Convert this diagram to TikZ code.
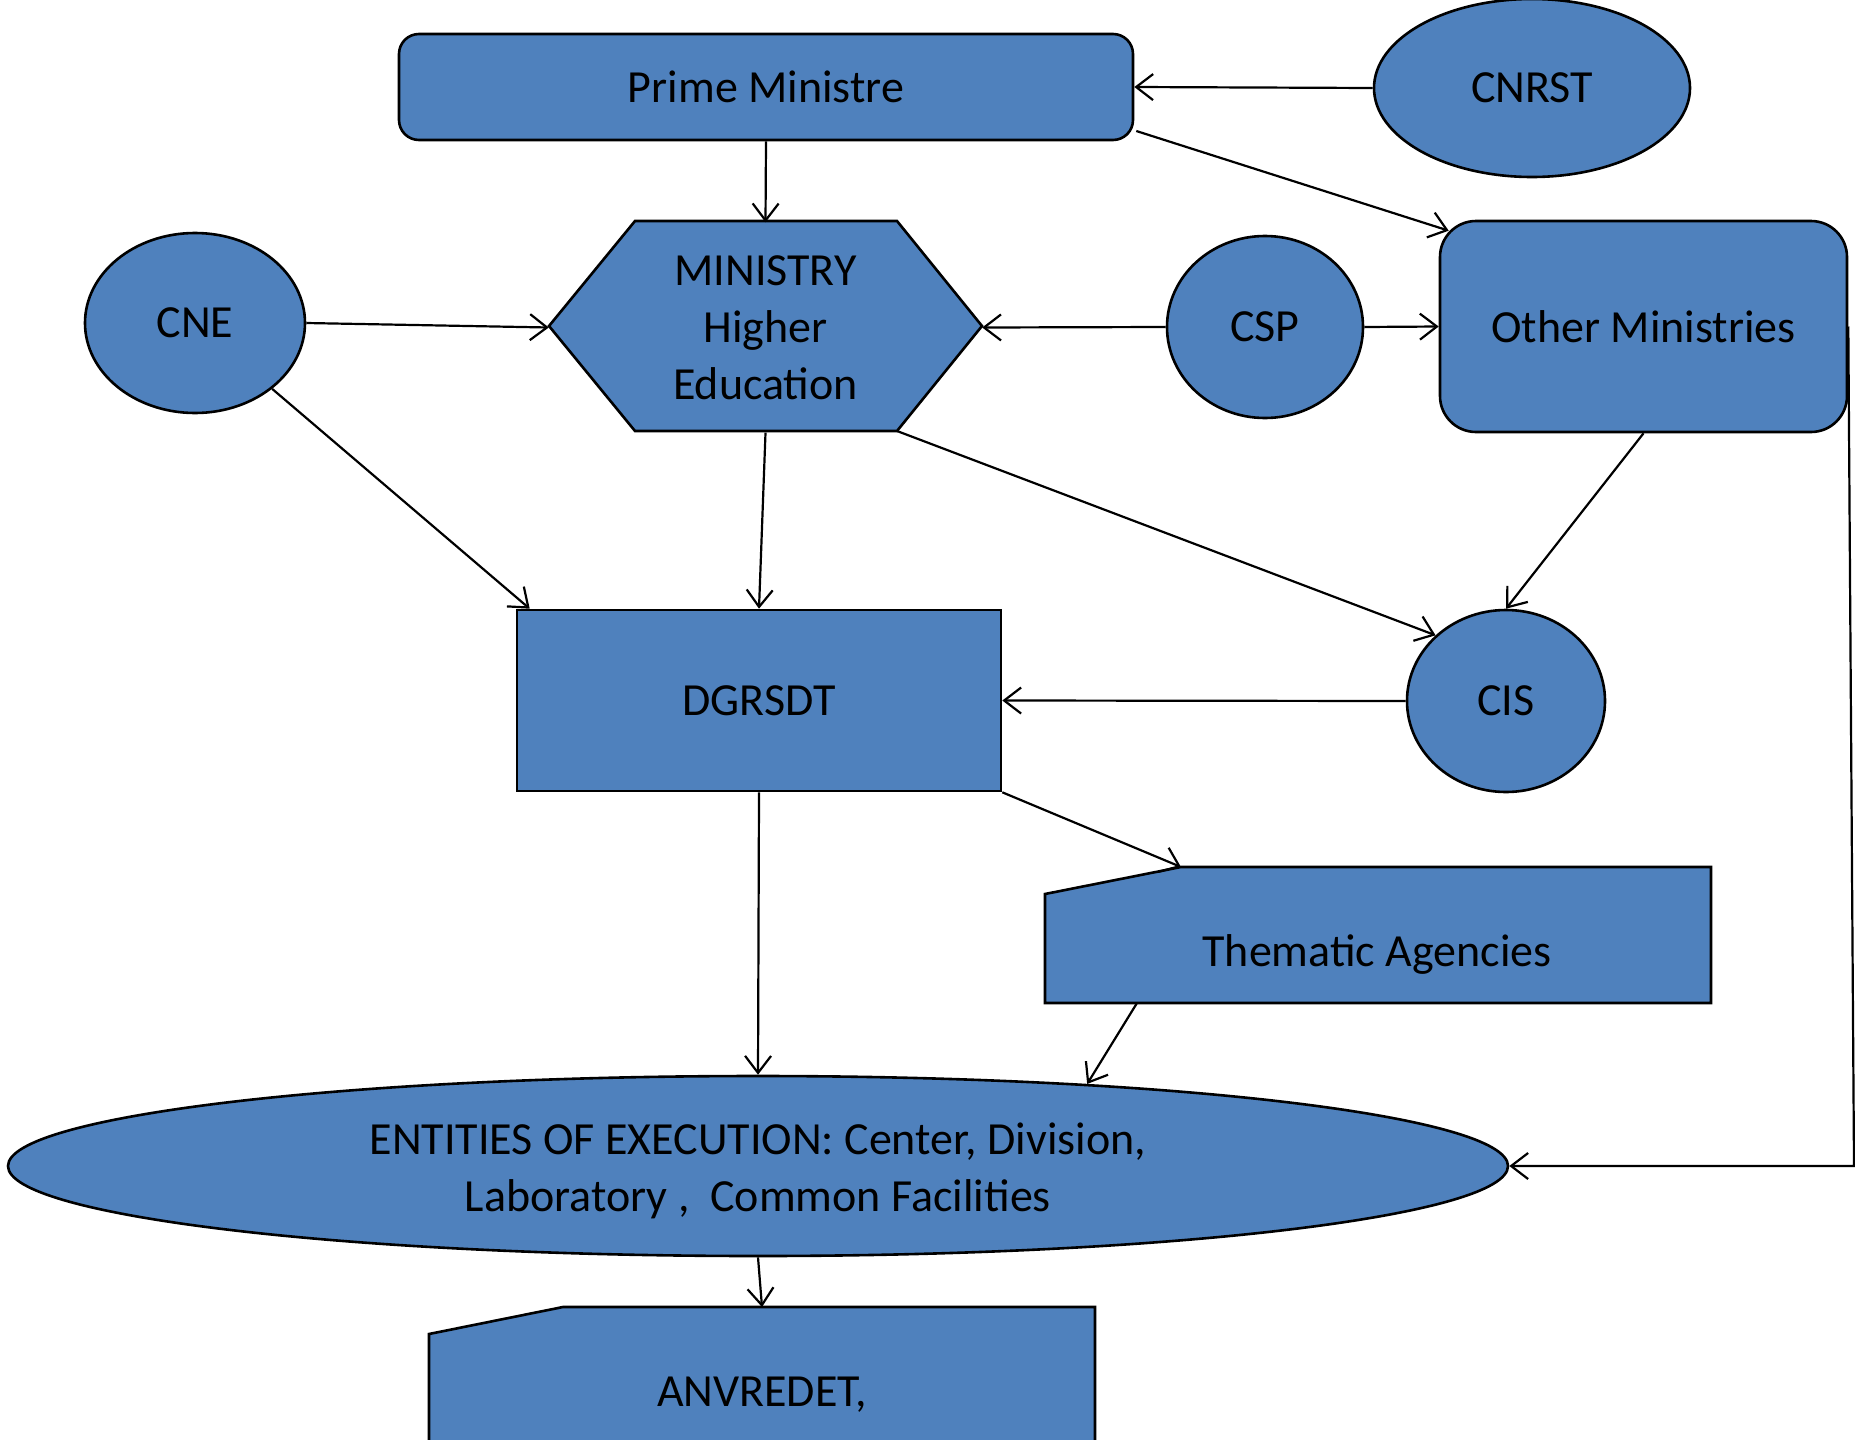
\documentclass[tikz,border=0pt]{standalone}
\usepackage{fontspec}
\setmainfont{Carlito}
\usetikzlibrary{shapes.geometric,arrows.meta,calc}
\definecolor{boxblue}{HTML}{4F81BD}
\begin{document}
\begin{tikzpicture}[x=1pt,y=-1pt,
  every node/.style={font=\fontsize{46}{57}\selectfont, inner sep=0pt, text=black},
  shapebox/.style={draw=black, line width=2.6pt, fill=boxblue},
  oval/.style={shapebox, ellipse},
  arr/.style={line width=2.2pt, -{Straight Barb[length=17pt,width=26pt,line width=2.2pt]}},
  outline/.style={draw=black, line width=2.6pt, fill=boxblue, line join=miter}]
\useasboundingbox (0,0) rectangle (1855,1440);
\clip (0,0) rectangle (1855,1440);

\node[shapebox, rounded corners=20pt, minimum width=734pt, minimum height=106pt] (pm) at (766,87) {Prime Ministre};
\node[oval, minimum width=316pt, minimum height=178pt] (cnrst) at (1532,88) {CNRST};

\draw[outline] (635,221) -- (897,221) -- (982,326) -- (897,431) -- (635,431) -- (549,326) -- cycle;
\node[minimum width=433pt, minimum height=210pt, align=center] (min) at (765.5,327.5) {MINISTRY\\Higher\\Education};
\coordinate (minbr) at (897,431);

\node[oval, minimum width=220pt, minimum height=180pt] (cne) at (195,323) {CNE};
\node[oval, minimum width=196pt, minimum height=182pt] (csp) at (1265,327) {CSP};
\node[shapebox, rounded corners=36pt, minimum width=407pt, minimum height=211pt] (om) at (1643.5,326.5) {Other Ministries};
\node[shapebox, minimum width=484pt, minimum height=181pt] (dg) at (759,700.5) {DGRSDT};
\node[oval, minimum width=198pt, minimum height=182pt] (cis) at (1506,701) {CIS};

\draw[outline] (1181,867) -- (1711,867) -- (1711,1003) -- (1045,1003) -- (1045,894) -- cycle;
\node (th) at (1377,954) {Thematic Agencies};
\coordinate (thcut) at (1181,867);
\coordinate (thbot) at (1137,1003);

\node[oval, minimum width=1500pt, minimum height=180pt] (ent) at (758,1166) {};
\node[align=center] (entt) at (758,1171) {ENTITIES OF EXECUTION: Center, Division,\\Laboratory ,~ Common Facilities};

\draw[outline] (563,1307) -- (1095,1307) -- (1095,1470) -- (429,1470) -- (429,1334) -- cycle;
\node (anv) at (762,1395) {ANVREDET,};
\coordinate (anvtop) at (762,1307);
\coordinate (rc) at (1854,1166);

\draw[arr] (cnrst.west) -- (pm.east);
\draw[arr] ($(pm.east)+(2,44)$) -- ($(om.north west)+(10,11)$);
\draw[arr] (pm.south) -- (min.north);
\draw[arr] (cne.east) -- (min.west);
\draw[arr] (csp.west) -- (min.east);
\draw[arr] (csp.east) -- (om.west);
\draw[arr] (cne) -- ($(dg.north west)+(14,0)$);
\draw[arr] (min.south) -- (dg.north);
\draw[arr] (minbr) -- (cis.137);
\draw[arr] (om.south) -- (cis.north);
\draw[arr] (cis.west) -- (dg.east);
\draw[arr] (dg.south east) -- (thcut);
\draw[arr] (dg.south) -- (ent.north);
\draw[arr] (thbot) -- (ent.14);
\draw[arr] (om.east) -- (rc) -- (ent.east);
\draw[arr] (ent.south) -- (anvtop);
\end{tikzpicture}
\end{document}
